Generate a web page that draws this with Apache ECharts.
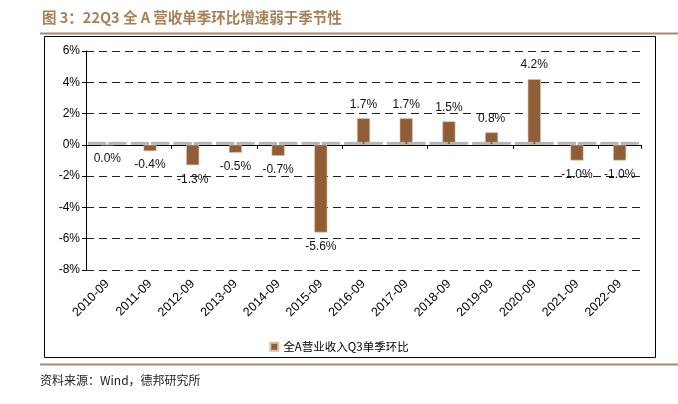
<!DOCTYPE html>
<html><head><meta charset="utf-8">
<script src="https://cdn.jsdelivr.net/npm/echarts@6/dist/echarts.min.js"></script>
<style>html,body{margin:0;padding:0;background:#fff}#c{width:678px;height:404px}</style>
</head><body><div id="c"></div>
<script>
const categories = ['2010-09','2011-09','2012-09','2013-09','2014-09','2015-09','2016-09','2017-09','2018-09','2019-09','2020-09','2021-09','2022-09'];
const values = [0.0, -0.4, -1.3, -0.5, -0.7, -5.6, 1.7, 1.7, 1.5, 0.8, 4.2, -1.0, -1.0];
const baseline = [0,0,0,0,0,0,0,0,0,0,0,0,0];
const seriesName = '全A营业收入Q3单季环比';
const titleText = '图 3：22Q3 全 A 营收单季环比增速弱于季节性';
const sourceText = '资料来源：Wind，德邦研究所';

const chart = echarts.init(document.getElementById('c'), null, {renderer:'canvas'});
const font = 'Liberation Sans, Arial, sans-serif';
chart.setOption({
  animation:false,
  graphic:[
    {type:'text', left:42, top:10, style:{text:titleText, fill:'#a88058', font:'bold 14.5px "Noto Sans CJK SC", sans-serif'}},
    {type:'line', shape:{x1:40,y1:33.5,x2:678,y2:33.5}, style:{stroke:'#a88a6c', lineWidth:2}},
    {type:'rect', shape:{x:44.5,y:36.5,width:611,height:321}, style:{fill:'none', stroke:'#000', lineWidth:1}},
    {type:'line', shape:{x1:40,y1:364.5,x2:678,y2:364.5}, style:{stroke:'#a88a6c', lineWidth:2}},
    {type:'text', left:40, top:374, style:{text:sourceText, fill:'#222', font:'12px "Noto Sans CJK SC", sans-serif'}}
  ],
  legend:{
    data:[seriesName], left:'center', top:336, itemWidth:8, itemHeight:8, icon:'rect',
    textStyle:{fontSize:11.5, color:'#000', fontFamily:'"Noto Sans CJK SC", sans-serif'}, itemGap:4
  },
  grid:{left:86, right:37, top:51, bottom:134, containLabel:false},
  xAxis:[
    {type:'category', data:categories, axisLine:{onZero:true, lineStyle:{color:'#000', width:1}},
     axisTick:{show:true, length:4, alignWithLabel:false, lineStyle:{color:'#000'}}, axisLabel:{show:false}},
    {type:'category', data:categories, position:'bottom', axisLine:{show:false}, axisTick:{show:false},
     axisLabel:{rotate:45, fontSize:12.5, color:'#000', fontFamily:font, margin:12}}
  ],
  yAxis:{type:'value', min:-8, max:6, interval:2,
    axisLine:{show:true, lineStyle:{color:'#000'}}, axisTick:{show:true, length:4, lineStyle:{color:'#000'}},
    axisLabel:{formatter:'{value}%', fontSize:12, color:'#000', fontFamily:font, margin:6},
    splitLine:{show:true, lineStyle:{color:'#222', type:[8,5], width:1.2}}
  },
  series:[{
    name:seriesName, type:'bar', xAxisIndex:0, barWidth:13, z:2,
    itemStyle:{color:'#8f5e37', borderColor:'#dcc0a4', borderWidth:0.6},
    data: values.map(v => ({value:v, label:{position: v > 0 ? 'top' : 'bottom'}})),
    label:{show:true, formatter: p => p.value.toFixed(1) + '%', fontSize:12, color:'#111', fontFamily:font, distance:8}
  },{
    name:'baseline', type:'custom', xAxisIndex:0, z:3, silent:true,
    data: baseline,
    renderItem: function(params, api){
      const c = api.coord([api.value(0), api.value(1)]);
      const w = api.size([1,0])[0];
      const y = c[1] - 1.5;
      const seg = w/2 - 3;
      return {type:'group', children:[
        {type:'line', shape:{x1:c[0]-w/2+2, y1:y, x2:c[0]-w/2+2+seg, y2:y}, style:{stroke:'#b4b4b4', lineWidth:3}},
        {type:'line', shape:{x1:c[0]+1, y1:y, x2:c[0]+1+seg, y2:y}, style:{stroke:'#b4b4b4', lineWidth:3}}
      ]};
    },
    encode:{x:0, y:1}
  }]
});
</script></body></html>
